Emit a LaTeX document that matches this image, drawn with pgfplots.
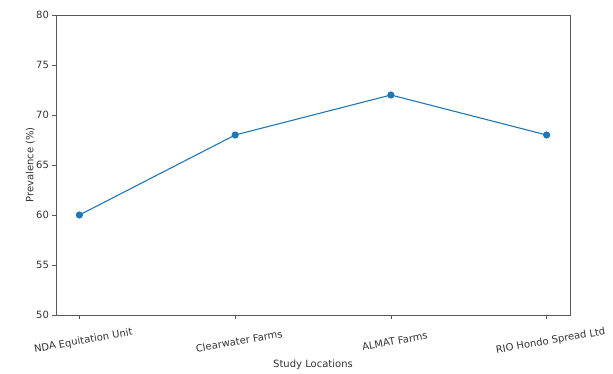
\documentclass[border=0pt]{standalone}
\usepackage{pgfplots}
\pgfplotsset{compat=1.18}
\usepackage{fontspec}
\setmainfont{DejaVu Sans}
\definecolor{mplblue}{HTML}{1F77B4}
\begin{document}
\begin{tikzpicture}[x=1pt,y=1pt]
\path[use as bounding box] (-56,-58) rectangle (557,315);
\begin{axis}[
  at={(0,0)}, anchor=south west,
  scale only axis, width=514pt, height=300pt,
  xmin=-0.15, xmax=3.15, ymin=50, ymax=80,
  xtick={0,1,2,3},
  xticklabels={NDA Equitation Unit, Clearwater Farms, ALMAT Farms, RIO Hondo Spread Ltd},
  ytick={50,55,...,80},
  tick align=outside, xtick pos=bottom, ytick pos=left,
  major tick length=3.5pt,
  axis line style={black!65, line width=0.9pt},
  every tick/.style={black!65, line width=0.7pt},
  font=\fontsize{10}{12}\selectfont,
  tick label style={font=\fontsize{10}{12}\selectfont, text=black!80},
  /pgf/number format/assume math mode=true,
  xticklabel style={rotate=10, anchor=center, yshift=-23pt},
  xlabel={Study Locations}, ylabel={Prevalence (\%)},
  every axis x label/.style={at={(axis description cs:0.5,-0.165)}, anchor=center, text=black!80},
  every axis y label/.style={at={(axis description cs:-0.05,0.5)}, rotate=90, anchor=center, text=black!80},
]
\addplot[mplblue, line width=1.1pt, mark=*, mark size=3pt, mark options={fill=mplblue, draw=mplblue}]
  coordinates {(0,60) (1,68) (2,72) (3,68)};
\end{axis}
\end{tikzpicture}
\end{document}
